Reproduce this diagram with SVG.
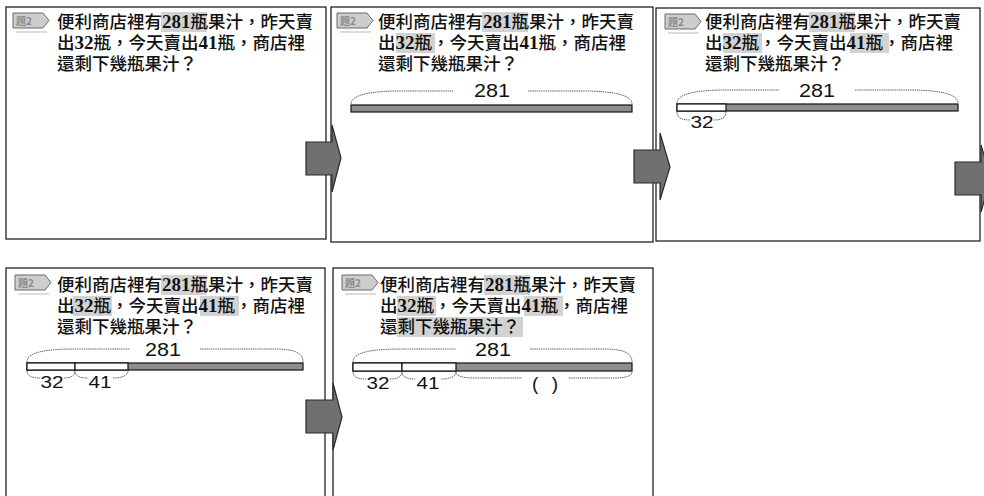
<svg xmlns="http://www.w3.org/2000/svg" xmlns:xlink="http://www.w3.org/1999/xlink" width="984" height="496" viewBox="0 0 984 496">
<style>
.panel{fill:#fff;stroke:#222;stroke-width:1.3}
.q{font-family:"Liberation Serif","Noto Sans CJK TC",serif;font-size:17.5px;font-weight:500;fill:#111}
.d{font-weight:bold;font-size:19px}
.hl{fill:#d2d2d2}
.badge{fill:#cdcdcd;stroke:#6a6a6a;stroke-width:1}
.btxt{font-family:"Noto Sans CJK TC",sans-serif;font-size:10px;font-weight:bold;fill:#8a8a8a}
.bshadow{stroke:#dcdcdc;stroke-width:2;fill:none}
.bar{fill:#8e8e8e;stroke:#111;stroke-width:1.2}
.seg{fill:#fff;stroke:#111;stroke-width:1.2}
.brace{fill:none;stroke:#555;stroke-width:0.9;stroke-dasharray:1.5 0.7}
.num{font-family:"Liberation Sans",Arial,sans-serif;font-size:19px;fill:#111;text-anchor:middle}
.sm{font-family:"Liberation Sans",Arial,sans-serif;font-size:16px;fill:#111;text-anchor:middle}
.arrow{fill:#707070;stroke:#2a2a2a;stroke-width:1.2}
</style>
<defs>
<g id="badge">
<path class="bshadow" d="M3,19 L34,19"/>
<polygon class="badge" points="0,0 30,0 36,7.5 30,15 0,15"/>
</g>
</defs>

<g id="panel1">
<rect class="panel" x="6" y="7" width="320" height="232"/>
<use xlink:href="#badge" x="13" y="13"/>
<text class="btxt" x="16" y="24.5">題2</text>
<rect class="hl" x="161" y="12" width="46" height="20"/>
<text class="q" x="57" y="28">便利商店裡有<tspan class="d">281</tspan>瓶果汁，昨天賣</text>
<text class="q" x="57" y="49">出<tspan class="d">32</tspan>瓶，今天賣出<tspan class="d">41</tspan>瓶，商店裡</text>
<text class="q" x="57" y="70">還剩下幾瓶果汁？</text>
</g>

<g id="panel2">
<rect class="panel" x="331" y="7" width="322" height="235"/>
<use xlink:href="#badge" x="337" y="13"/>
<text class="btxt" x="340" y="24.5">題2</text>
<rect class="hl" x="482" y="12" width="46" height="20"/>
<rect class="hl" x="396" y="33" width="39" height="20"/>
<text class="q" x="378" y="28">便利商店裡有<tspan class="d">281</tspan>瓶果汁，昨天賣</text>
<text class="q" x="378" y="49">出<tspan class="d">32</tspan>瓶，今天賣出<tspan class="d">41</tspan>瓶，商店裡</text>
<text class="q" x="378" y="70">還剩下幾瓶果汁？</text>
<path class="brace" d="M351,104 C351,95 370,91 400,91 L453,91 M528,91 L583,91 C613,91 632,95 632,104"/>
<text class="num" x="492" y="97" textLength="36" lengthAdjust="spacingAndGlyphs">281</text>
<rect class="bar" x="351" y="105" width="281" height="7"/>
</g>

<g id="panel3">
<rect class="panel" x="656" y="8" width="324" height="233"/>
<use xlink:href="#badge" x="665" y="14"/>
<text class="btxt" x="668" y="25.5">題2</text>
<rect class="hl" x="809" y="12" width="46" height="20"/>
<rect class="hl" x="723" y="33" width="39" height="20"/>
<rect class="hl" x="850" y="33" width="39" height="20"/>
<text class="q" x="705" y="28">便利商店裡有<tspan class="d">281</tspan>瓶果汁，昨天賣</text>
<text class="q" x="705" y="49">出<tspan class="d">32</tspan>瓶，今天賣出<tspan class="d">41</tspan>瓶，商店裡</text>
<text class="q" x="705" y="70">還剩下幾瓶果汁？</text>
<path class="brace" d="M677,103 C677,94 696,90 726,90 L779,90 M855,90 L909,90 C939,90 958,94 958,103"/>
<text class="num" x="817" y="97" textLength="36" lengthAdjust="spacingAndGlyphs">281</text>
<rect class="bar" x="677" y="104" width="281" height="7"/>
<rect class="seg" x="677" y="104" width="49" height="7"/>
<path class="brace" d="M677,112 C677,118 682,120 690,120 M714,120 C721,120 726,118 726,112"/>
<text class="sm" x="702" y="128" textLength="23" lengthAdjust="spacingAndGlyphs">32</text>
</g>

<g id="panel4">
<rect class="panel" x="6" y="268" width="319" height="240"/>
<use xlink:href="#badge" x="15" y="275"/>
<text class="btxt" x="18" y="286.5">題2</text>
<rect class="hl" x="161" y="275" width="46" height="20"/>
<rect class="hl" x="73" y="296" width="39" height="20"/>
<rect class="hl" x="200" y="296" width="39" height="20"/>
<text class="q" x="57" y="291">便利商店裡有<tspan class="d">281</tspan>瓶果汁，昨天賣</text>
<text class="q" x="57" y="312">出<tspan class="d">32</tspan>瓶，今天賣出<tspan class="d">41</tspan>瓶，商店裡</text>
<text class="q" x="57" y="333">還剩下幾瓶果汁？</text>
<path class="brace" d="M27,362 C27,352 46,349 76,349 L130,349 M200,349 L273,349 C293,349 303,352 303,362"/>
<text class="num" x="163" y="356" textLength="36" lengthAdjust="spacingAndGlyphs">281</text>
<rect class="bar" x="27" y="363" width="276" height="7"/>
<rect class="seg" x="27" y="363" width="48" height="7"/>
<rect class="seg" x="75" y="363" width="53" height="7"/>
<path class="brace" d="M27,371 C27,376 32,378 40,378 M64,378 C70,378 75,376 75,371 C75,376 80,378 88,378 M113,378 C121,378 128,376 128,371"/>
<text class="sm" x="52" y="388" textLength="23" lengthAdjust="spacingAndGlyphs">32</text>
<text class="sm" x="100" y="388" textLength="23" lengthAdjust="spacingAndGlyphs">41</text>
</g>

<g id="panel5">
<rect class="panel" x="333" y="268" width="320" height="240"/>
<use xlink:href="#badge" x="342" y="275"/>
<text class="btxt" x="345" y="286.5">題2</text>
<rect class="hl" x="484" y="275" width="46" height="20"/>
<rect class="hl" x="397" y="296" width="39" height="20"/>
<rect class="hl" x="524" y="296" width="39" height="20"/>
<rect class="hl" x="397" y="317" width="126" height="20"/>
<text class="q" x="380" y="291">便利商店裡有<tspan class="d">281</tspan>瓶果汁，昨天賣</text>
<text class="q" x="380" y="312">出<tspan class="d">32</tspan>瓶，今天賣出<tspan class="d">41</tspan>瓶，商店裡</text>
<text class="q" x="380" y="333">還剩下幾瓶果汁？</text>
<path class="brace" d="M353,362 C353,352 372,349 402,349 L456,349 M530,349 L602,349 C622,349 632,352 632,362"/>
<text class="num" x="493" y="356" textLength="36" lengthAdjust="spacingAndGlyphs">281</text>
<rect class="bar" x="353" y="363" width="279" height="8"/>
<rect class="seg" x="353" y="363" width="49" height="8"/>
<rect class="seg" x="402" y="363" width="54" height="8"/>
<path class="brace" d="M353,372 C353,377 358,379 366,379 M390,379 C397,379 402,377 402,372 C402,377 407,379 415,379 M441,379 C449,379 456,377 456,372 C456,376 462,378 476,378 L522,378 M569,378 L614,378 C626,378 632,376 632,372"/>
<text class="sm" x="378" y="389" textLength="23" lengthAdjust="spacingAndGlyphs">32</text>
<text class="sm" x="428" y="389" textLength="23" lengthAdjust="spacingAndGlyphs">41</text>
<text class="num" x="545" y="390" textLength="26" lengthAdjust="spacing">( )</text>
</g>

<g id="connectors">
<polygon class="arrow" points="306,142 332,142 332,125 341,158 332,192 332,175 306,175"/>
<polygon class="arrow" points="634,150 660,150 660,133 670,167 660,200 660,183 634,183"/>
<polygon class="arrow" points="955,162 981,162 981,145 991,178 981,212 981,195 955,195"/>
<polygon class="arrow" points="306,400 333,400 333,383 342,417 333,450 333,433 306,433"/>
</g>
</svg>
